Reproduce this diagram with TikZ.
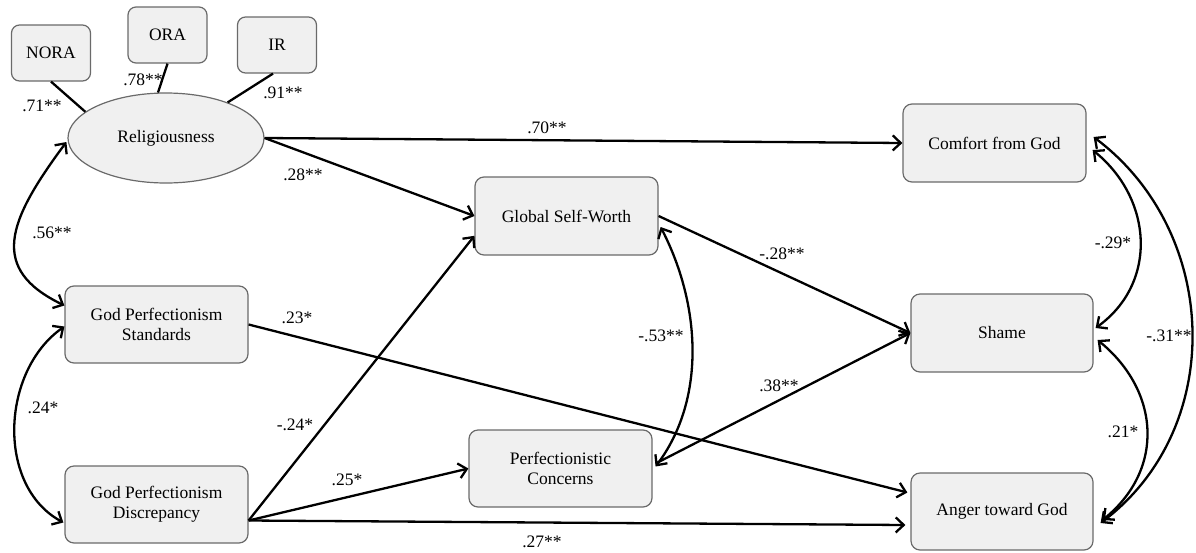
\documentclass[tikz,border=0pt]{standalone}
\usepackage{fontspec}
\setmainfont{Liberation Serif}
\usetikzlibrary{arrows.meta,calc,shapes.geometric}
\definecolor{boxfill}{HTML}{F0F0F0}
\definecolor{boxline}{HTML}{6A6A6A}
\begin{document}
\begin{tikzpicture}[x=1pt,y=-1pt,
  font=\fontsize{17.5}{20}\selectfont,
  vbox/.style={draw=boxline,fill=boxfill,line width=1.2pt,rounded corners=9pt,
    minimum width=183pt,minimum height=77pt,align=center,inner sep=2pt},
  ibox/.style={draw=boxline,fill=boxfill,line width=1.2pt,rounded corners=8pt,
    minimum width=79pt,minimum height=56pt,inner sep=2pt},
  latent/.style={draw=boxline,fill=boxfill,line width=1.2pt,ellipse,
    minimum width=196pt,minimum height=90pt,inner sep=0pt},
  path/.style={line width=2.3pt,-{Straight Barb[length=8pt,width=15pt,line width=2.3pt]}},
  cov/.style={line width=2.3pt,{Straight Barb[length=8pt,width=15pt,line width=2.3pt]}-{Straight Barb[length=8pt,width=15pt,line width=2.3pt]}},
  load/.style={line width=2.3pt},
  coef/.style={inner sep=0pt}]
\useasboundingbox (0,0) rectangle (1196,552);

% nodes
\node[ibox] (NORA) at (51,53) {NORA};
\node[ibox] (ORA) at (167.5,35) {ORA};
\node[ibox] (IR) at (277,45) {IR};
\node[latent] (Rel) at (166,138) {Religiousness};
\node[vbox] (GPS) at (156.5,324.5) {God Perfectionism\\Standards};
\node[vbox] (GPD) at (156.5,504.5) {God Perfectionism\\Discrepancy};
\node[vbox,minimum height=78pt] (GSW) at (566.5,216) {Global Self-Worth};
\node[vbox] (PC) at (560.5,468.5) {Perfectionistic\\Concerns};
\node[vbox,minimum height=78pt] (Com) at (994.5,143) {Comfort from God};
\node[vbox,minimum width=182pt,minimum height=78pt] (Sha) at (1002,333) {Shame};
\node[vbox,minimum width=182pt] (Ang) at (1002,511.5) {Anger toward God};

\coordinate (gpdout) at ($(GPD.east)+(0,16)$);

% loadings
\draw[load] (NORA.south) -- (Rel.162);
\draw[load] (ORA.south) -- (Rel.100);
\draw[load] ($(IR.south)+(-4,0)$) -- (Rel.30);
\node[coef] at (42,106) {.71**};
\node[coef] at (143,80) {.78**};
\node[coef] at (283,93) {.91**};

% covariances left
\draw[cov] ($(Rel.west)+(-1,4)$) .. controls (7,222) and (-11,269) .. ($(GPS.west)+(0,-19)$);
\node[coef] at (52,233) {.56**};
\draw[cov] ($(GPS.west)+(0,2)$) .. controls (1,371) and (-4,486) .. ($(GPD.west)+(-1,18)$);
\node[coef] at (43,408) {.24*};

% regression paths
\draw[path] (Rel.east) -- (Com.west);
\node[coef] at (547,128) {.70**};
\draw[path] (Rel.east) -- (GSW.west);
\node[coef] at (303,175) {.28**};
\draw[path] (gpdout) -- ($(GSW.west)!0.5!(GSW.south west)$);
\node[coef] at (295,425) {-.24*};
\draw[path] (gpdout) -- (PC.west);
\node[coef] at (347,480) {.25*};
\draw[path] (gpdout) -- ($(Ang.west)+(-5,13.5)$);
\node[coef] at (542,542) {.27**};
\draw[path] (GPS.east) -- ($(Ang.west)+(-3,-19)$);
\node[coef] at (297,318) {.23*};
\draw[path] (GSW.east) -- (Sha.west);
\node[coef] at (782,254) {-.28**};
\draw[path] ($(PC.east)+(3,-5)$) -- (Sha.west);
\node[coef] at (779,386) {.38**};

% covariance GSW - PC
\draw[cov] ($(GSW.east)+(2,11)$) .. controls (700,303) and (707,398) .. ($(PC.east)+(3,-2)$);
\node[coef] at (661,336) {-.53**};

% covariances right
\draw[cov] ($(Com.east)+(6,7)$) .. controls (1153,199) and (1158,283) .. ($(Sha.east)+(2,-5)$);
\node[coef] at (1113,243) {-.29*};
\draw[cov] ($(Sha.east)+(4,7)$) .. controls (1160,391) and (1165,469) .. ($(Ang.east)+(9,8.5)$);
\node[coef] at (1123,432) {.21*};
\draw[cov] ($(Com.east)+(7,-6)$) .. controls (1220,232) and (1227,428) .. ($(Ang.east)+(7,11.5)$);
\node[coef] at (1169,336) {-.31**};
\end{tikzpicture}
\end{document}
